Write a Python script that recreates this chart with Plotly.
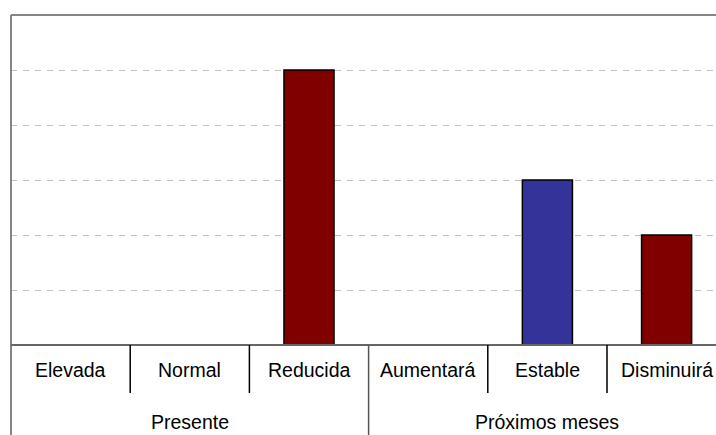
import plotly.graph_objects as go

# Data
groups = ["Presente", "Próximos meses"]
categories = ["Elevada", "Normal", "Reducida", "Aumentará", "Estable", "Disminuirá"]
cat_group = ["Presente", "Presente", "Presente", "Próximos meses", "Próximos meses", "Próximos meses"]
values = [0, 0, 5, 0, 3, 2]
bar_colors = ["#800000", "#800000", "#800000", "#333399", "#333399", "#800000"]

W, H = 716, 435
ML, MR, MT, MB = 11, 0, 15, 90
plot_h = H - MT - MB
plot_w = W - ML - MR
cat_px = 119.2
x_max = -0.5 + plot_w / cat_px

FONT = "Liberation Sans, Arial, sans-serif"

fig = go.Figure()
fig.add_trace(go.Bar(
    x=list(range(len(categories))),
    y=values,
    width=0.42,
    marker=dict(color=bar_colors, line=dict(color="#000000", width=1.5)),
    hoverinfo="skip",
    showlegend=False,
))

shapes = []
# top border
shapes.append(dict(type="line", xref="paper", yref="paper", x0=0, x1=1, y0=1, y1=1,
                   line=dict(color="#858585", width=2.2), layer="above"))
# left border extending down through label rows
shapes.append(dict(type="line", xref="paper", yref="paper", x0=0, x1=0, y0=1, y1=-MB / plot_h,
                   line=dict(color="#858585", width=2), layer="above"))
# baseline
shapes.append(dict(type="line", xref="paper", yref="paper", x0=0, x1=1, y0=0, y1=0,
                   line=dict(color="#666666", width=2), layer="above"))
# category dividers
n = len(categories)
for i in range(1, n):
    b = i - 0.5
    if cat_group[i] != cat_group[i - 1]:
        y1 = -MB / plot_h
        col = "#555555"
    else:
        y1 = -48 / plot_h
        col = "#000000"
    shapes.append(dict(type="line", xref="x", yref="paper", x0=b, x1=b, y0=0, y1=y1,
                       line=dict(color=col, width=1.5), layer="above"))

annotations = []
for i, c in enumerate(categories):
    annotations.append(dict(x=i, y=0, xref="x", yref="paper", text=c, showarrow=False,
                            yanchor="middle", yshift=-25,
                            font=dict(family=FONT, size=19.5, color="#000000")))
for g in groups:
    idx = [i for i, cg in enumerate(cat_group) if cg == g]
    center = (idx[0] + idx[-1]) / 2
    annotations.append(dict(x=center, y=0, xref="x", yref="paper", text=g, showarrow=False,
                            yanchor="middle", yshift=-77,
                            font=dict(family=FONT, size=19.5, color="#000000")))

fig.update_layout(
    width=W, height=H,
    margin=dict(l=ML, r=MR, t=MT, b=MB, pad=0),
    paper_bgcolor="#ffffff",
    plot_bgcolor="#ffffff",
    showlegend=False,
    xaxis=dict(range=[-0.5, x_max], showticklabels=False, ticks="", showgrid=False,
               zeroline=False, showline=False, fixedrange=True),
    yaxis=dict(range=[0, 6], dtick=1, showticklabels=False, ticks="", showgrid=True,
               gridcolor="#c0c0c0", gridwidth=1, griddash="6px,6px",
               zeroline=False, showline=False, fixedrange=True),
    shapes=shapes,
    annotations=annotations,
    font=dict(family=FONT),
)

fig.write_html(
    "out.html",
    config={"displayModeBar": False},
    post_script="document.body.style.margin='0';document.body.style.overflow='hidden';",
)
